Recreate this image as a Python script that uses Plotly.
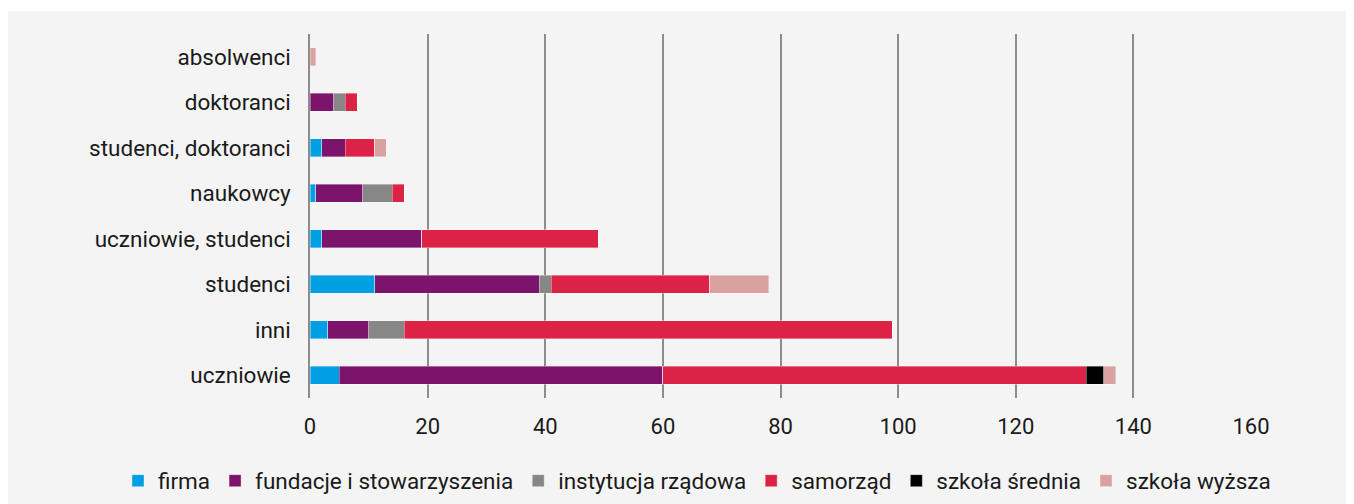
import plotly.graph_objects as go

categories = ["absolwenci", "doktoranci", "studenci, doktoranci", "naukowcy",
              "uczniowie, studenci", "studenci", "inni", "uczniowie"]

firma = [0, 0, 2, 1, 2, 11, 3, 5]
fundacje = [0, 4, 4, 8, 17, 28, 7, 55]
instytucja = [0, 2, 0, 5, 0, 2, 6, 0]
samorzad = [0, 2, 5, 2, 30, 27, 83, 72]
szkola_srednia = [0, 0, 0, 0, 0, 0, 0, 3]
szkola_wyzsza = [1, 0, 2, 0, 0, 10, 0, 2]

x_ticks = [0, 20, 40, 60, 80, 100, 120, 140, 160]

series = [
    ("firma", firma, "#009FE3"),
    ("fundacje i stowarzyszenia", fundacje, "#7C146B"),
    ("instytucja rządowa", instytucja, "#878787"),
    ("samorząd", samorzad, "#DC2346"),
    ("szkoła średnia", szkola_srednia, "#000000"),
    ("szkoła wyższa", szkola_wyzsza, "#D9A19F"),
]

fig = go.Figure()
for name, vals, color in series:
    fig.add_trace(go.Bar(
        y=categories, x=vals, name=name, orientation="h",
        marker=dict(color=color, line=dict(width=0.6, color="rgba(255,255,255,0.6)")),
        hoverinfo="x+y+name",
    ))

# page body adds an 8px offset; figure is sized so it ends at the window edge
OFF = 8
W, H = 1354 - OFF, 504 - OFF
ml, mt = 310 - OFF, 34 - OFF
mr = W - (1251 - OFF)
mb = H - (398 - OFF)
pw = W - ml - mr
ph = H - mt - mb

def py(screen_y):
    return (mt + ph - (screen_y - OFF)) / ph

def px(screen_x):
    return (screen_x - OFF - ml) / pw

fig.update_layout(
    width=W, height=H,
    barmode="stack", bargap=0.6,
    paper_bgcolor="#F4F4F4", plot_bgcolor="#F4F4F4",
    margin=dict(l=ml, r=mr, t=mt, b=mb, pad=0, autoexpand=False),
    font=dict(family="Roboto, Arial, sans-serif", size=22, color="#1A1A1A"),
    xaxis=dict(range=[0, 160], tickvals=x_ticks, showgrid=True,
               gridcolor="#8C8C8C", gridwidth=1.5, zeroline=False,
               showline=False, ticks="", ticklabelstandoff=13,
               automargin=False,
               tickfont=dict(size=22, color="#1A1A1A")),
    yaxis=dict(autorange="reversed", showgrid=False, zeroline=False,
               showline=True, linecolor="#8C8C8C", linewidth=1.5,
               ticks="", ticklabelstandoff=13, automargin=False,
               tickfont=dict(size=22.5, color="#1A1A1A")),
    legend=dict(orientation="h", x=px(118), xanchor="left",
                y=py(481), yanchor="middle",
                font=dict(size=22.5, color="#1A1A1A"),
                bgcolor="rgba(0,0,0,0)", traceorder="normal",
                itemwidth=30, tracegroupgap=0),
    shapes=[dict(type="rect", xref="paper", yref="paper",
                 x0=px(-20), x1=px(1400),
                 y0=py(11), y1=py(-20),
                 fillcolor="white", line=dict(width=0), layer="below")],
)

fig.write_html("out.html")
